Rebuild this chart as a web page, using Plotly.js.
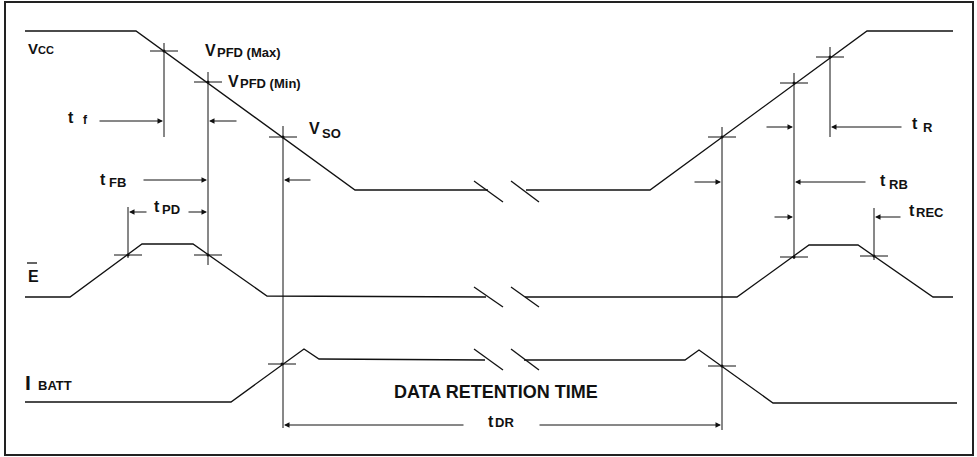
<!DOCTYPE html>
<html>
<head>
<meta charset="utf-8">
<script src="https://cdn.plot.ly/plotly-3.0.1.min.js"></script>
<style>html,body{margin:0;padding:0;background:#fff;}#chart{width:977px;height:457px;}</style>
</head>
<body>
<div id="chart"></div>
<script>
// ---- waveform vertices (time position, level) ----
var vccX = [25, 136, 355, 488, null, 526, 650, 867, 953];
var vccY = [31, 31, 190, 190, null, 190, 190, 31, 31];
var eX = [25, 70, 142, 193, 267, 486, null, 525, 737, 809, 858, 933, 953];
var eY = [297, 297, 244, 244, 296, 297, null, 297, 297, 245, 245, 297, 297];
var iX = [25, 231, 304, 319, 485, null, 524, 685, 699, 773, 957];
var iY = [402, 402, 349, 359, 360, null, 360, 360, 350, 403, 403];

// break slashes: x start/end and y start/end per signal
var breakX1 = [474, 503];
var breakX2 = [511, 539];
var breakTop = [181, 287, 349];
var breakBot = [202, 307, 370];

// threshold crossing points
var crossX = [164, 208, 283, 722, 794, 830, 128, 208, 794, 874, 282, 722];
var crossY = [51, 82, 137, 137, 83, 57, 255, 255, 257, 256, 364, 366];

// timing reference verticals
var vertX = [164, 208, 283, 128, 722, 794, 830, 874];
var vertTop = [43, 72, 126, 207, 127, 73, 47, 208];
var vertBot = [137, 265, 428, 258, 430, 259, 137, 260];

// timing arrows: tail x, tip x, y
var arrTail = [98, 238, 142, 312, 148, 187, 765, 903, 693, 867, 773, 902, 465, 538];
var arrTip  = [163, 209, 207, 284, 129, 207, 793, 831, 721, 795, 793, 875, 284, 721];
var arrY    = [121, 121, 180, 180, 212, 212, 127, 127, 182, 182, 217, 217, 425, 425];

// labels: main glyph + subscript
var labMain = ["V", "V", "V", "V", "t", "t", "t", "E", "I", "t", "t", "t", "t"];
var labSub  = ["CC", "PFD (Max)", "PFD (Min)", "SO", "f", "FB", "PD", "", "BATT", "R", "RB", "REC", "DR"];
var centerText = "DATA RETENTION TIME";

// ---- placement of labels (layout) ----
var mainPos = [[26,48,15],[203,50,16],[226,81,16],[307,128,16],[66,117,16],[98,179,16],[152,206,16],[26,276,16],[23,382,21],[910,123,16],[878,180,16],[907,210,16],[486,421,16]];
var subPos  = [[36,50,11],[215,52,13],[238,83,13],[320,133,13],[81,120,12],[107,182,13],[160,209,13],[0,0,0],[36,385,13],[921,127,13],[887,184,13],[914,212,13],[493,422,13]];

var ink = '#111';
var FONT = 'Liberation Sans, Arial, Helvetica, sans-serif';
var traces = [];
function addLine(x, y, w) {
  traces.push({x: x, y: y, mode: 'lines', type: 'scatter', line: {color: ink, width: w}, hoverinfo: 'skip', showlegend: false, connectgaps: false});
}
addLine(vccX, vccY, 1.3);
addLine(eX, eY, 1.3);
addLine(iX, iY, 1.3);

// slashes
var sx = [], sy = [];
for (var k = 0; k < breakTop.length; k++) {
  sx.push(breakX1[0], breakX1[1], null, breakX2[0], breakX2[1], null);
  sy.push(breakTop[k], breakBot[k], null, breakTop[k], breakBot[k], null);
}
addLine(sx, sy, 1.3);

// verticals
var vx = [], vy = [];
for (var k = 0; k < vertX.length; k++) { vx.push(vertX[k], vertX[k], null); vy.push(vertTop[k], vertBot[k], null); }
addLine(vx, vy, 1);

// cross ticks
var tx = [], ty = [];
for (var k = 0; k < crossX.length; k++) { tx.push(crossX[k] - 14, crossX[k] + 14, null); ty.push(crossY[k], crossY[k], null); }
addLine(tx, ty, 1);
traces.push({x: crossX, y: crossY, mode: 'markers', type: 'scatter', marker: {color: ink, size: 3}, hoverinfo: 'skip', showlegend: false});

// E overbar
addLine([27, 37], [263, 263], 1.3);

var ann = [];
for (var k = 0; k < arrTail.length; k++) {
  ann.push({x: arrTip[k], y: arrY[k], ax: arrTail[k], ay: arrY[k], xref: 'x', yref: 'y', axref: 'x', ayref: 'y',
    text: '', showarrow: true, arrowhead: 2, arrowsize: 1.1, arrowwidth: 1, arrowcolor: ink, standoff: 0, startstandoff: 0});
}
for (var k = 0; k < labMain.length; k++) {
  ann.push({x: mainPos[k][0], y: mainPos[k][1], xref: 'x', yref: 'y', text: labMain[k], showarrow: false,
    xanchor: 'left', yanchor: 'middle', font: {family: FONT, size: mainPos[k][2], color: ink, weight: 'bold'}});
  if (labSub[k]) {
    ann.push({x: subPos[k][0], y: subPos[k][1], xref: 'x', yref: 'y', text: labSub[k], showarrow: false,
      xanchor: 'left', yanchor: 'middle', font: {family: FONT, size: subPos[k][2], color: ink, weight: 'bold'}});
  }
}
ann.push({x: 496, y: 392, xref: 'x', yref: 'y', text: centerText, showarrow: false, xanchor: 'center', yanchor: 'middle',
  font: {family: FONT, size: 18, color: ink, weight: 'bold'}});

var layout = {
  width: 977, height: 457,
  margin: {l: 0, r: 0, t: 0, b: 0},
  paper_bgcolor: '#fff', plot_bgcolor: '#fff',
  xaxis: {range: [0, 977], visible: false, fixedrange: true},
  yaxis: {range: [457, 0], visible: false, fixedrange: true},
  showlegend: false,
  annotations: ann,
  shapes: [{type: 'rect', xref: 'x', yref: 'y', x0: 5, x1: 973, y0: 2, y1: 455, line: {color: '#222', width: 2}}]
};
Plotly.newPlot('chart', traces, layout, {staticPlot: true, displayModeBar: false});
</script>
</body>
</html>
